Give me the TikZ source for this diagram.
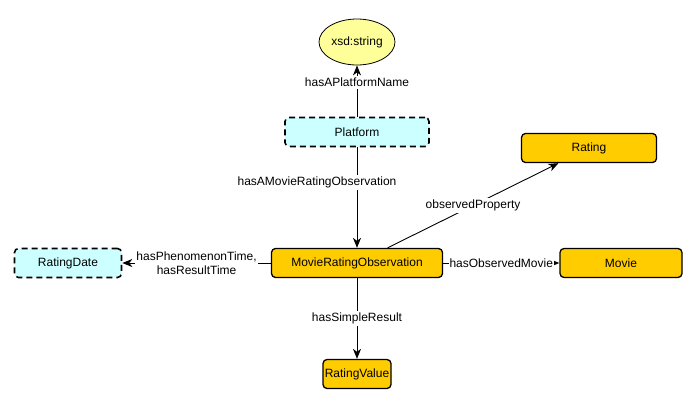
\documentclass[tikz,border=0pt]{standalone}
\usepackage{fontspec}
\setmainfont{Liberation Sans}
\usepackage{xcolor}
\usetikzlibrary{shapes.geometric, arrows.meta, positioning}

\definecolor{classfill}{HTML}{FFCC00}
\definecolor{extfill}{HTML}{CCFFFF}
\definecolor{literalfill}{HTML}{FFFF99}

\begin{document}
\begin{tikzpicture}[
    x=1pt, y=-1pt,
    font=\fontsize{12}{14}\selectfont,
    class/.style={rectangle, draw, line width=1.3pt, rounded corners=4pt, fill=classfill, minimum height=29pt, inner sep=0.5pt},
    extclass/.style={rectangle, draw, line width=1.6pt, dash pattern=on 6pt off 4pt, rounded corners=4pt, fill=extfill, minimum height=29pt},
    literal/.style={ellipse, draw, line width=0.8pt, fill=literalfill, minimum width=76pt, minimum height=46pt, inner sep=0pt},
    arrow/.style={-{Stealth[length=10pt, width=8pt, inset=3pt]}, line width=0.9pt},
    lbl/.style={fill=white, inner sep=2pt, align=center}
]
\useasboundingbox (0,0) rectangle (697,402);

\node[literal] (string) at (357,42) {xsd:string};
\node[extclass, minimum width=144pt] (platform) at (357,132) {Platform};
\node[class, minimum width=135pt] (rating) at (589,148) {Rating};
\node[extclass, minimum width=107pt] (ratingdate) at (68,263) {RatingDate};
\node[class, minimum width=171pt] (mro) at (357,263) {MovieRatingObservation};
\node[class, minimum width=122pt] (movie) at (621,263) {Movie};
\node[class, minimum width=68pt] (ratingvalue) at (357,374) {RatingValue};

% Arrows
\draw[arrow] (platform) -- node[lbl, pos=0.67] {hasAPlatformName} (string);
\draw[arrow] (platform) -- node[lbl, pos=0.35, xshift=-40pt] {hasAMovieRatingObservation} (mro);
\draw[arrow] (mro) -- node[lbl] {observedProperty} (rating);
\draw[arrow] (mro) -- node[lbl, inner sep=1pt] {hasObservedMovie} (movie);
\draw[arrow] (mro) -- node[lbl, inner sep=1pt] {hasPhenomenonTime,\\hasResultTime} (ratingdate);
\draw[arrow] (mro) -- node[lbl] {hasSimpleResult} (ratingvalue);

\end{tikzpicture}
\end{document}
